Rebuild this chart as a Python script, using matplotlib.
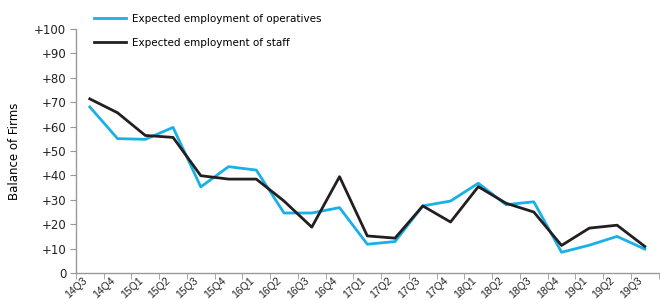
import numpy as np
import matplotlib
matplotlib.use("Agg")
import matplotlib.pyplot as plt
from matplotlib.ticker import FixedLocator
from matplotlib.transforms import ScaledTranslation

quarters = ["14Q3", "14Q4", "15Q1", "15Q2", "15Q3", "15Q4", "16Q1", "16Q2",
            "16Q3", "16Q4", "17Q1", "17Q2", "17Q3", "17Q4", "18Q1", "18Q2",
            "18Q3", "18Q4", "19Q1", "19Q2", "19Q3"]
operatives = [68.1, 55.1, 54.8, 59.7, 35.3, 43.6, 42.2, 24.6, 24.6, 26.8,
              11.8, 12.9, 27.5, 29.5, 36.8, 28.0, 29.2, 8.5, 11.4, 15.0, 9.8]
staff = [71.4, 65.7, 56.4, 55.6, 39.9, 38.5, 38.5, 29.5, 18.8, 39.5,
         15.2, 14.3, 27.5, 20.9, 35.4, 28.6, 25.0, 11.3, 18.4, 19.6, 10.9]
yticks = [0, 10, 20, 30, 40, 50, 60, 70, 80, 90, 100]
ytick_labels = ["0"] + [f"+{v}" for v in yticks[1:]]

fig = plt.figure(figsize=(6.6, 3.0), dpi=100)
ax = fig.add_axes([0.115, 0.09, 0.883, 0.813])

x = np.arange(len(quarters))
ax.plot(x, operatives, color="#1AAFE6", lw=2.0, label="Expected employment of operatives")
ax.plot(x, staff, color="#231F20", lw=2.0, label="Expected employment of staff")

ax.set_xlim(-0.5, len(quarters) - 0.5)
ax.set_ylim(0, 100)
ax.set_yticks(yticks)
ax.set_yticklabels(ytick_labels, fontsize=8.5, color="#222222")

ax.set_xticks(x)
ax.set_xticklabels(quarters, rotation=42, ha="right", va="top",
                   rotation_mode="anchor", fontsize=7.5, color="#222222",
                   family=["Liberation Sans", "DejaVu Sans"])
ax.tick_params(axis="x", which="major", length=0, pad=2)
shift = ScaledTranslation(-7 / 100, 0, fig.dpi_scale_trans)
for lbl in ax.get_xticklabels():
    lbl.set_transform(lbl.get_transform() + shift)
ax.xaxis.set_minor_locator(FixedLocator(np.arange(-0.5, len(quarters), 1.0)))
ax.tick_params(axis="x", which="minor", length=4, color="#999999")
ax.tick_params(axis="y", length=4, color="#999999", pad=3)

for side in ["top", "right"]:
    ax.spines[side].set_visible(False)
for side in ["left", "bottom"]:
    ax.spines[side].set_color("#999999")
    ax.spines[side].set_linewidth(1.0)

ax.set_ylabel("Balance of Firms", fontsize=8.5,
              family=["Liberation Sans Narrow", "DejaVu Sans"])
ax.yaxis.set_label_coords(-0.095, 0.5)

ax.legend(loc="upper left", bbox_to_anchor=(0.015, 1.1), frameon=False,
          fontsize=7.5, handlelength=3.1, handletextpad=0.5, labelspacing=1.3)

fig.savefig("out.png", dpi=100)
